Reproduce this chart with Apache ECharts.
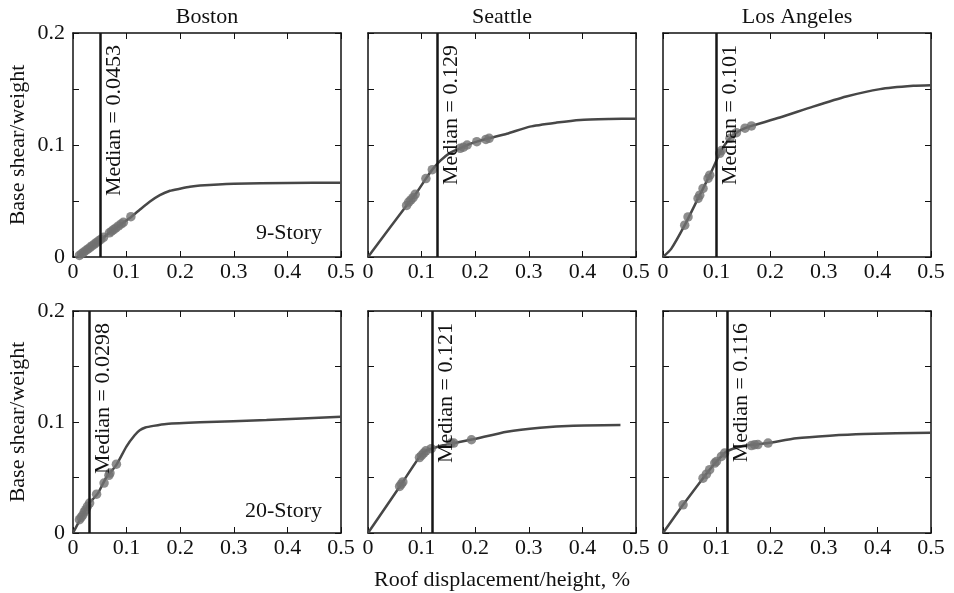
<!DOCTYPE html>
<html>
<head>
<meta charset="utf-8">
<script src="https://cdn.jsdelivr.net/npm/echarts@6/dist/echarts.min.js"></script>
<style>
  html, body { margin: 0; padding: 0; background: #fff; }
  #chart { width: 954px; height: 593px; }
</style>
</head>
<body>
<div id="chart"></div>
<script>
// ---- Data ----
const cityTitles = ['Boston', 'Seattle', 'Los Angeles'];
const storyLabels = ['9-Story', '20-Story'];
const xTickLabels = ['0', '0.1', '0.2', '0.3', '0.4', '0.5'];
const yTickLabels = ['0', '0.1', '0.2'];
const medians9 = [0.0453, 0.129, 0.101];
const medians20 = [0.0298, 0.121, 0.116];

// Pushover curves [roof drift %, base shear/weight]
const boston9Curve = [[0.008,0],[0.047,0.0134],[0.068,0.0216],[0.109,0.036],[0.125,0.0424],[0.143,0.0493],[0.162,0.0552],[0.181,0.0591],[0.199,0.0609],[0.218,0.0627],[0.237,0.0639],[0.3,0.0655],[0.4,0.0661],[0.5,0.0664]];
const seattle9Curve = [[0,0],[0.072,0.046],[0.09,0.057],[0.108,0.070],[0.12,0.078],[0.135,0.086],[0.153,0.093],[0.172,0.097],[0.185,0.1],[0.203,0.103],[0.225,0.106],[0.259,0.110],[0.302,0.1164],[0.352,0.120],[0.396,0.1224],[0.45,0.1232],[0.5,0.1235]];
const la9Curve = [[0,0],[0.0156,0.0075],[0.0405,0.0284],[0.0654,0.0523],[0.0872,0.0731],[0.106,0.0926],[0.115,0.100],[0.125,0.106],[0.137,0.111],[0.153,0.115],[0.168,0.1175],[0.218,0.1245],[0.28,0.1343],[0.342,0.1433],[0.405,0.1499],[0.467,0.1528],[0.5,0.1534]];
const boston20Curve = [[0,0],[0.012,0.011],[0.031,0.027],[0.0467,0.0359],[0.062,0.050],[0.081,0.0614],[0.0996,0.0778],[0.115,0.088],[0.1245,0.0925],[0.135,0.095],[0.15,0.0965],[0.174,0.0982],[0.237,0.0997],[0.361,0.1018],[0.5,0.1048]];
const seattle20Curve = [[0,0],[0.0593,0.0419],[0.0654,0.0464],[0.0967,0.0689],[0.109,0.0743],[0.1215,0.0764],[0.14,0.079],[0.159,0.0808],[0.196,0.0844],[0.259,0.0913],[0.321,0.0949],[0.383,0.0967],[0.471,0.0973]];
const la20Curve = [[0,0],[0.0374,0.0254],[0.0747,0.0494],[0.087,0.057],[0.0997,0.0644],[0.109,0.069],[0.118,0.0734],[0.149,0.0784],[0.177,0.0800],[0.196,0.081],[0.249,0.0853],[0.311,0.0877],[0.374,0.0892],[0.5,0.0904]];

// Ground-motion points
const boston9Dots = [[0.012,0.0014],[0.016,0.0029],[0.02,0.0043],[0.024,0.0058],[0.028,0.0072],[0.032,0.0086],[0.036,0.0101],[0.04,0.0115],[0.044,0.013],[0.048,0.0144],[0.052,0.0158],[0.057,0.0176],[0.068,0.0216],[0.072,0.023],[0.076,0.0245],[0.08,0.0259],[0.085,0.0277],[0.09,0.0295],[0.094,0.031],[0.108,0.036]];
const seattle9Dots = [[0.072,0.046],[0.076,0.049],[0.08,0.051],[0.084,0.053],[0.088,0.056],[0.108,0.070],[0.12,0.078],[0.172,0.097],[0.178,0.098],[0.185,0.1],[0.203,0.103],[0.22,0.105],[0.226,0.106]];
const la9Dots = [[0.0405,0.0284],[0.0467,0.0358],[0.0654,0.0523],[0.0685,0.0552],[0.0747,0.0612],[0.084,0.0702],[0.0872,0.0731],[0.106,0.0926],[0.109,0.095],[0.125,0.106],[0.137,0.111],[0.153,0.115],[0.165,0.117]];
const boston20Dots = [[0.012,0.012],[0.015,0.014],[0.018,0.016],[0.021,0.019],[0.024,0.021],[0.027,0.024],[0.031,0.027],[0.044,0.035],[0.058,0.045],[0.067,0.052],[0.069,0.054],[0.081,0.062]];
const seattle20Dots = [[0.059,0.042],[0.062,0.044],[0.065,0.046],[0.096,0.068],[0.1,0.07],[0.104,0.072],[0.108,0.074],[0.118,0.076],[0.155,0.081],[0.16,0.081],[0.193,0.084]];
const la20Dots = [[0.0374,0.0254],[0.0747,0.0494],[0.081,0.053],[0.087,0.057],[0.0966,0.063],[0.0997,0.0644],[0.109,0.069],[0.115,0.072],[0.165,0.0788],[0.171,0.0795],[0.177,0.0797],[0.196,0.081]];

const curves = [[boston9Curve, seattle9Curve, la9Curve], [boston20Curve, seattle20Curve, la20Curve]];
const dots = [[boston9Dots, seattle9Dots, la9Dots], [boston20Dots, seattle20Dots, la20Dots]];
const medians = [medians9, medians20];

// ---- Layout ----
const FONT = 'Liberation Serif';
const FS = 22;
const gridLefts = [73, 368, 663];
const gridTops = [33, 311];
const gridW = 268;
const gridHs = [224, 222];

const grids = [], xAxes = [], yAxes = [], series = [], titles = [];
const frame = { show: true, onZero: false, lineStyle: { color: '#111', width: 1.5 } };
const ticks = { show: true, inside: true, length: 6, lineStyle: { color: '#111', width: 1 } };

function fmtX(v) {
  const i = Math.round(v * 10);
  return xTickLabels[i] !== undefined ? xTickLabels[i] : '';
}
function fmtY(v) {
  const k = Math.round(v * 100);
  if (k % 10 !== 0) return '';
  return yTickLabels[k / 10] || '';
}

let idx = 0;
for (let r = 0; r < 2; r++) {
  for (let c = 0; c < 3; c++) {
    grids.push({ left: gridLefts[c], top: gridTops[r], width: gridW, height: gridHs[r], containLabel: false });
    const xb = {
      type: 'value', gridIndex: idx, position: 'bottom', min: 0, max: 0.5, interval: 0.1,
      axisLine: frame, axisTick: ticks,
      axisLabel: { show: true, formatter: fmtX, fontFamily: FONT, fontSize: FS, color: '#111', margin: 4 },
      splitLine: { show: false }
    };
    if (r === 1 && c === 1) {
      xb.name = 'Roof displacement/height, %';
      xb.nameLocation = 'middle';
      xb.nameGap = 36;
      xb.nameTextStyle = { fontFamily: FONT, fontSize: FS, color: '#111' };
    }
    xAxes.push(xb);
    xAxes.push({
      type: 'value', gridIndex: idx, position: 'top', min: 0, max: 0.5, interval: 0.1,
      axisLine: frame, axisTick: ticks,
      axisLabel: { show: false }, splitLine: { show: false }
    });
    const yl = {
      type: 'value', gridIndex: idx, position: 'left', min: 0, max: 0.2, interval: 0.05,
      axisLine: frame, axisTick: ticks,
      axisLabel: { show: c === 0, formatter: fmtY, fontFamily: FONT, fontSize: FS, color: '#111', margin: 8 },
      splitLine: { show: false }
    };
    if (c === 0) {
      yl.name = 'Base shear/weight';
      yl.nameLocation = 'middle';
      yl.nameGap = 44;
      yl.nameTextStyle = { fontFamily: FONT, fontSize: FS, color: '#111' };
    }
    yAxes.push(yl);
    yAxes.push({
      type: 'value', gridIndex: idx, position: 'right', min: 0, max: 0.2, interval: 0.05,
      axisLine: frame, axisTick: ticks,
      axisLabel: { show: false }, splitLine: { show: false }
    });

    series.push({
      type: 'line', xAxisIndex: 2 * idx, yAxisIndex: 2 * idx, data: curves[r][c],
      showSymbol: false, smooth: 0.2,
      lineStyle: { color: '#474747', width: 2.5 }, z: 2, silent: true
    });
    series.push({
      type: 'scatter', xAxisIndex: 2 * idx, yAxisIndex: 2 * idx, data: dots[r][c],
      symbolSize: 9.5, itemStyle: { color: '#707070' }, z: 3, silent: true,
      markLine: {
        silent: true, symbol: ['none', 'none'], animation: false,
        lineStyle: { color: '#161616', width: 2.5, type: 'solid' },
        label: {
          show: true, position: 'insideEndBottom', formatter: 'Median = ' + medians[r][c],
          fontFamily: FONT, fontSize: FS, color: '#111', distance: [12, 3]
        },
        data: [{ xAxis: medians[r][c] }]
      }
    });
    if (r === 0) {
      titles.push({
        text: cityTitles[c], left: gridLefts[c] + gridW / 2, top: 6, textAlign: 'center', padding: 0,
        textStyle: { fontFamily: FONT, fontSize: FS, fontWeight: 'normal', color: '#111' }
      });
    }
    idx++;
  }
}
titles.push({ text: storyLabels[0], right: 954 - 322, top: 222, padding: 0,
  textStyle: { fontFamily: FONT, fontSize: FS, fontWeight: 'normal', color: '#111' } });
titles.push({ text: storyLabels[1], right: 954 - 322, top: 500, padding: 0,
  textStyle: { fontFamily: FONT, fontSize: FS, fontWeight: 'normal', color: '#111' } });

const chart = echarts.init(document.getElementById('chart'), null, { renderer: 'canvas' });
chart.setOption({
  backgroundColor: '#fff',
  animation: false,
  title: titles,
  grid: grids,
  xAxis: xAxes,
  yAxis: yAxes,
  series: series
});
</script>
</body>
</html>
